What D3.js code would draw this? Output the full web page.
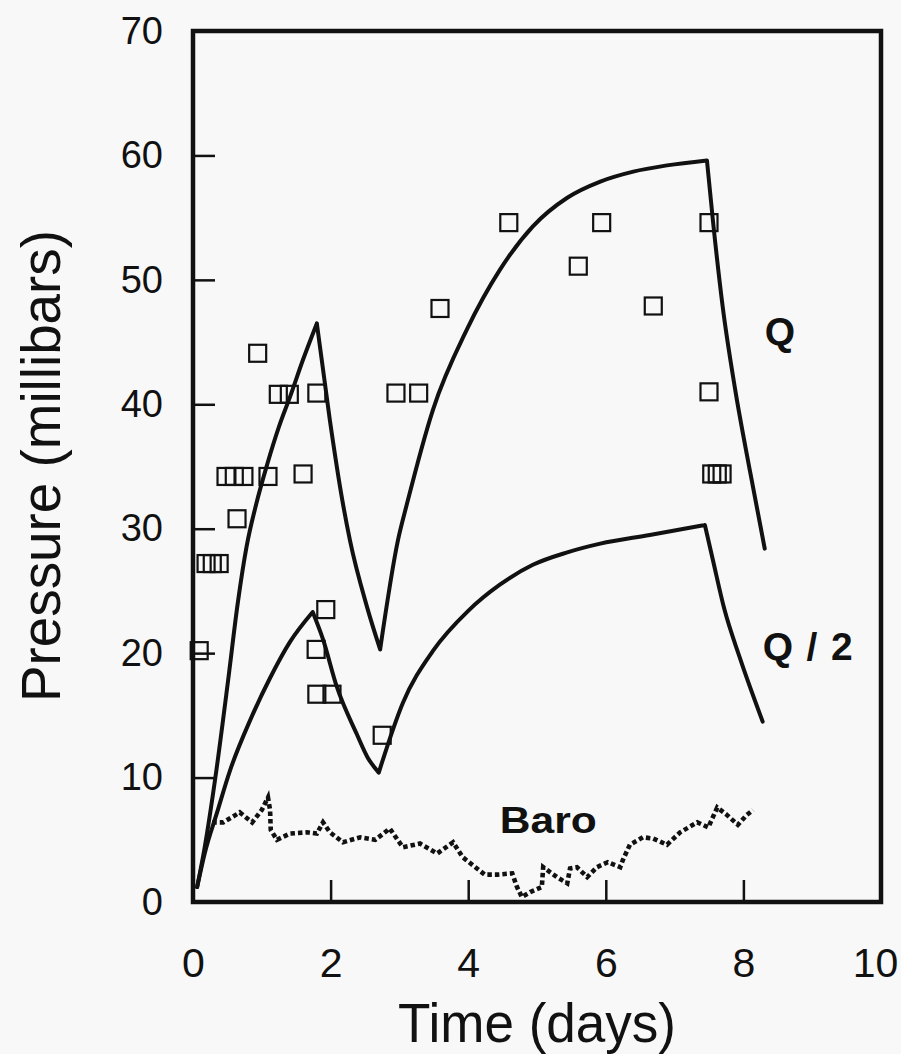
<!DOCTYPE html>
<html lang="en">
<head>
    <meta charset="utf-8">
    <title>Pressure vs time</title>
    <style>
        html,body{
            margin:0;
            background:#f8f8f8;
        }
        svg{display:block;}
        .ink{stroke:#111;fill:none;}
        .label{font-family:"Liberation Sans",Arial,Helvetica,sans-serif;font-weight:bold;fill:#111;}
        .title{font-family:"Liberation Sans",Arial,Helvetica,sans-serif;fill:#111;}
    </style>
</head>
<body>
    <svg id="chart" width="901" height="1054"></svg>

    <script src="https://cdn.jsdelivr.net/npm/d3@7"></script>
    <script>
    // axis ticks
    const xTicks = [0, 2, 4, 6, 8, 10];
    const yTicks = [0, 10, 20, 30, 40, 50, 60, 70];

    // model curve, full injection rate: [days, mbar]
    const qModel = [
        [0.06, 1.2], [0.17, 4.4], [0.32, 9.8], [0.51, 17.8], [0.65, 24.0],
        [0.78, 28.6], [0.92, 32.0], [1.08, 35.2], [1.25, 38.2], [1.41, 40.6],
        [1.60, 43.6], [1.80, 46.5],
        [1.99, 38.7], [2.17, 32.3], [2.28, 29.1], [2.53, 23.7], [2.72, 20.3],
        [2.98, 29.1], [3.11, 32.0], [3.49, 39.6], [3.98, 46.0], [4.46, 50.8],
        [4.94, 54.3], [5.44, 56.6], [5.92, 57.9], [6.40, 58.7], [6.89, 59.2],
        [7.47, 59.6],
        [7.56, 54.6], [7.70, 47.8], [7.88, 41.2], [8.10, 34.5], [8.31, 28.4]
    ];

    // model curve, half rate
    const q2Model = [
        [0.06, 1.2], [0.17, 3.9], [0.35, 7.2], [0.54, 10.6], [0.83, 14.6],
        [1.12, 18.0], [1.41, 20.9], [1.74, 23.3],
        [1.89, 21.1], [2.09, 17.3], [2.38, 13.5], [2.54, 11.6], [2.70, 10.4],
        [3.05, 16.0], [3.49, 20.2], [4.00, 23.4], [4.46, 25.5], [4.94, 27.1],
        [5.44, 28.1], [5.92, 28.8], [6.64, 29.5], [7.44, 30.3],
        [7.56, 27.4], [7.72, 23.6], [7.95, 19.6], [8.28, 14.5]
    ];

    // measured points
    const qObserved = [
        [0.09, 20.2], [0.19, 27.2], [0.28, 27.2], [0.38, 27.2], [0.64, 30.8],
        [0.48, 34.2], [0.60, 34.2], [0.74, 34.2], [1.09, 34.2], [0.94, 44.1],
        [1.24, 40.8], [1.40, 40.8], [1.80, 40.9], [1.60, 34.4], [2.95, 40.9],
        [3.28, 40.9], [3.59, 47.7], [4.59, 54.6], [5.60, 51.1], [5.94, 54.6],
        [6.69, 47.9], [7.50, 54.6], [7.50, 41.0], [7.54, 34.4], [7.62, 34.4],
        [7.69, 34.4]
    ];
    const q2Observed = [
        [1.93, 23.5], [1.79, 20.3], [1.80, 16.7], [2.02, 16.7], [2.75, 13.4]
    ];

    // barometric pressure
    const baro = [
        [0.28, 6.4], [0.44, 6.4], [0.68, 7.2], [0.86, 6.4], [1.00, 7.4],
        [1.09, 8.4], [1.12, 7.4], [1.13, 5.8], [1.22, 5.0], [1.41, 5.5],
        [1.66, 5.6], [1.80, 5.5], [1.89, 6.4], [1.99, 5.6], [2.18, 4.8],
        [2.43, 5.2], [2.65, 5.0], [2.86, 5.9], [3.05, 4.4], [3.30, 4.7],
        [3.55, 3.9], [3.78, 4.8], [3.92, 3.6], [4.24, 2.2], [4.42, 2.2],
        [4.64, 2.3], [4.71, 1.2], [4.78, 0.4], [4.90, 0.8], [5.07, 1.2],
        [5.09, 2.8], [5.29, 2.0], [5.44, 1.5], [5.48, 2.7], [5.58, 2.8],
        [5.73, 2.0], [5.87, 2.8], [6.03, 3.2], [6.21, 2.8], [6.25, 3.4],
        [6.35, 4.6], [6.54, 5.2], [6.69, 5.1], [6.89, 4.6], [7.08, 5.6],
        [7.33, 6.4], [7.49, 6.0], [7.62, 7.6], [7.76, 7.0], [7.92, 6.2],
        [8.05, 7.0], [8.14, 7.4]
    ];

    const svg = d3.select("#chart");

    const x = d3.scaleLinear().domain([0, 10]).range([193, 881]);
    const y = d3.scaleLinear().domain([0, 70]).range([902, 31]);

    // axes (ticks point inward)
    const xAxis = svg.append("g")
        .attr("transform", `translate(0,${y(0)})`)
        .call(d3.axisBottom(x).tickValues(xTicks).tickFormat(d3.format("d"))
            .tickSizeInner(-22).tickSizeOuter(0).tickPadding(46));
    const yAxis = svg.append("g")
        .attr("transform", `translate(${x(0)},0)`)
        .call(d3.axisLeft(y).tickValues(yTicks).tickFormat(d3.format("d"))
            .tickSizeInner(-22).tickSizeOuter(0).tickPadding(30));

    [xAxis, yAxis].forEach(g => {
        g.select(".domain").remove();
        g.attr("font-family", "'Liberation Sans', Arial, sans-serif");
        g.selectAll(".tick line").attr("stroke", "#111").attr("stroke-width", 2.5);
        g.selectAll(".tick text").attr("fill", "#111");
    });
    xAxis.attr("font-size", 41);
    yAxis.attr("font-size", 38);
    // keep the last label inside the page
    xAxis.selectAll(".tick text")
        .filter(d => d === 10)
        .attr("dx", -6);

    // frame
    svg.append("rect")
        .attr("class", "ink")
        .attr("x", x(0)).attr("y", y(70))
        .attr("width", x(10) - x(0)).attr("height", y(0) - y(70))
        .attr("stroke-width", 4.5);

    // split a curve where it turns, so the peaks stay sharp
    function pieces(pts) {
        const out = [];
        let cur = [pts[0]], dir = 0;
        for (let i = 1; i < pts.length; i++) {
            const d = Math.sign(pts[i][1] - pts[i - 1][1]);
            if (dir !== 0 && d !== dir) {
                out.push(cur);
                cur = [pts[i - 1]];
            }
            dir = d;
            cur.push(pts[i]);
        }
        out.push(cur);
        return out;
    }

    const smooth = d3.line()
        .x(d => x(d[0])).y(d => y(d[1]))
        .curve(d3.curveMonotoneX);

    [qModel, q2Model].forEach(curve => {
        svg.append("path")
            .attr("class", "ink")
            .attr("d", pieces(curve).map(smooth).join(""))
            .attr("stroke-width", 4)
            .attr("stroke-linecap", "round")
            .attr("stroke-linejoin", "round");
    });

    svg.append("path")
        .attr("class", "ink")
        .attr("d", d3.line().x(d => x(d[0])).y(d => y(d[1]))(baro))
        .attr("stroke-width", 4.6)
        .attr("stroke-dasharray", "4.5,3");

    const box = 17;
    svg.append("g")
        .selectAll("rect")
        .data(qObserved.concat(q2Observed))
        .enter().append("rect")
        .attr("class", "ink")
        .attr("x", d => x(d[0]) - box / 2)
        .attr("y", d => y(d[1]) - box / 2)
        .attr("width", box).attr("height", box)
        .attr("stroke-width", 2.2);

    // series labels
    svg.append("text").attr("class", "label")
        .attr("x", x(8.31)).attr("y", y(44.8))
        .attr("font-size", 39).text("Q");
    svg.append("text").attr("class", "label")
        .attr("x", x(8.28)).attr("y", y(19.45))
        .attr("font-size", 39)
        .attr("textLength", 90).attr("lengthAdjust", "spacing")
        .text("Q/2");
    svg.append("text").attr("class", "label")
        .attr("x", x(4.46)).attr("y", y(5.55))
        .attr("font-size", 37)
        .attr("textLength", 97).attr("lengthAdjust", "spacingAndGlyphs")
        .text("Baro");

    // axis titles
    svg.append("text").attr("class", "title")
        .attr("x", x(5)).attr("y", 1042)
        .attr("text-anchor", "middle")
        .attr("font-size", 56)
        .attr("textLength", 278).attr("lengthAdjust", "spacingAndGlyphs")
        .text("Time (days)");
    svg.append("text").attr("class", "title")
        .attr("transform", "translate(60,466) rotate(-90)")
        .attr("text-anchor", "middle")
        .attr("font-size", 55)
        .attr("textLength", 472).attr("lengthAdjust", "spacingAndGlyphs")
        .text("Pressure (millibars)");
    </script>
</body>
</html>
